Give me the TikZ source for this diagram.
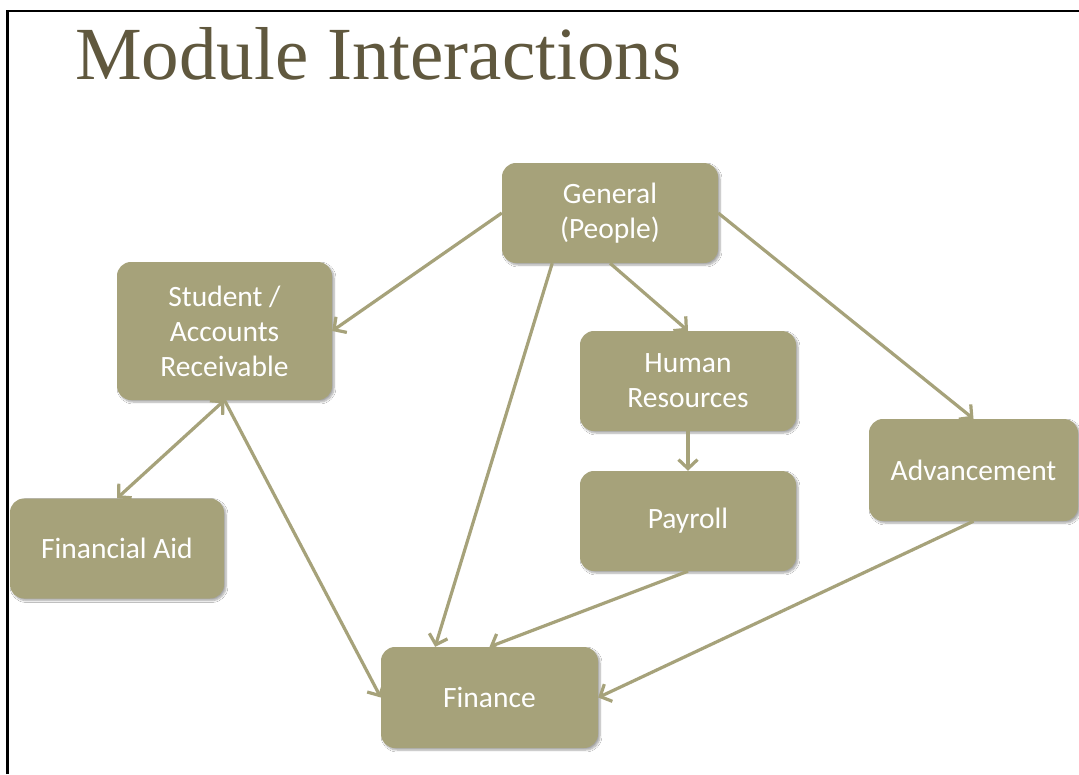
\documentclass[tikz,border=0pt]{standalone}
\usepackage{fontspec}
\setmainfont{Carlito}
\newfontfamily\titlefont{Liberation Serif}
\usepackage{xcolor}
\usepackage{tikz}
\usetikzlibrary{arrows.meta, shadows.blur}

\definecolor{khaki}{RGB}{166,162,122}
\definecolor{titlebrown}{RGB}{96,88,62}

% soft grey towards the corners of the slide
\pgfdeclareradialshading{slidebg}{\pgfpoint{0bp}{0bp}}{%
  color(0bp)=(white); color(40bp)=(white); color(72bp)=(black!10)}

\begin{document}
\begin{tikzpicture}[x=1pt,y=-1pt,
    >={Straight Barb[length=9pt,width=19pt]},
    module/.style={fill=khaki, rounded corners=14pt, text=white, align=center,
      font=\fontsize{29.5}{35}\selectfont, inner sep=0pt,
      minimum width=216pt, minimum height=100pt,
      blur shadow={shadow xshift=2pt, shadow yshift=-2pt, shadow blur steps=6, shadow opacity=35}},
    link/.style={draw=khaki, line width=3.2pt}]
  \useasboundingbox (0,0) rectangle (1079,774);
  \shade[shading=slidebg] (0,0) rectangle (1079,774);
  \draw[line width=2.5pt] (7.5,774) -- (7.5,11) -- (1079,11);

  \node[anchor=base west, inner sep=0pt, text=titlebrown, font=\titlefont\fontsize{75}{80}\selectfont] (title) at (75,79) {Module Interactions};

  \node[module](gen) at (610,213) {General\\(People)};
  \node[module, minimum width=215pt, minimum height=138pt](stu) at (224.5,331) {Student /\\Accounts\\Receivable};
  \node[module](hr) at (688,381) {Human\\Resources};
  \node[module](pay) at (688,521) {Payroll};
  \node[module, minimum width=209pt, minimum height=102pt](adv) at (973.5,470) {Advancement};
  \node[module, minimum width=214pt](aid) at (117,548.5) {Financial Aid};
  \node[module, minimum width=217pt, minimum height=101pt](fin) at (489.5,697.5) {Finance};

  \draw[link,->](gen.west) -- (stu.east);
  \draw[link,->](gen.221) -- (fin.137);
  \draw[link,->](gen.south) -- (hr.north);
  \draw[link,->](gen.east) -- (adv.north);
  \draw[link,<->](stu.south) -- (aid.north);
  \draw[link,->](stu.south) -- (fin.west);
  \draw[link,->](hr.south) -- (pay.north);
  \draw[link,->](pay.south) -- (fin.north);
  \draw[link,->](adv.south) -- (fin.east);
\end{tikzpicture}
\end{document}
